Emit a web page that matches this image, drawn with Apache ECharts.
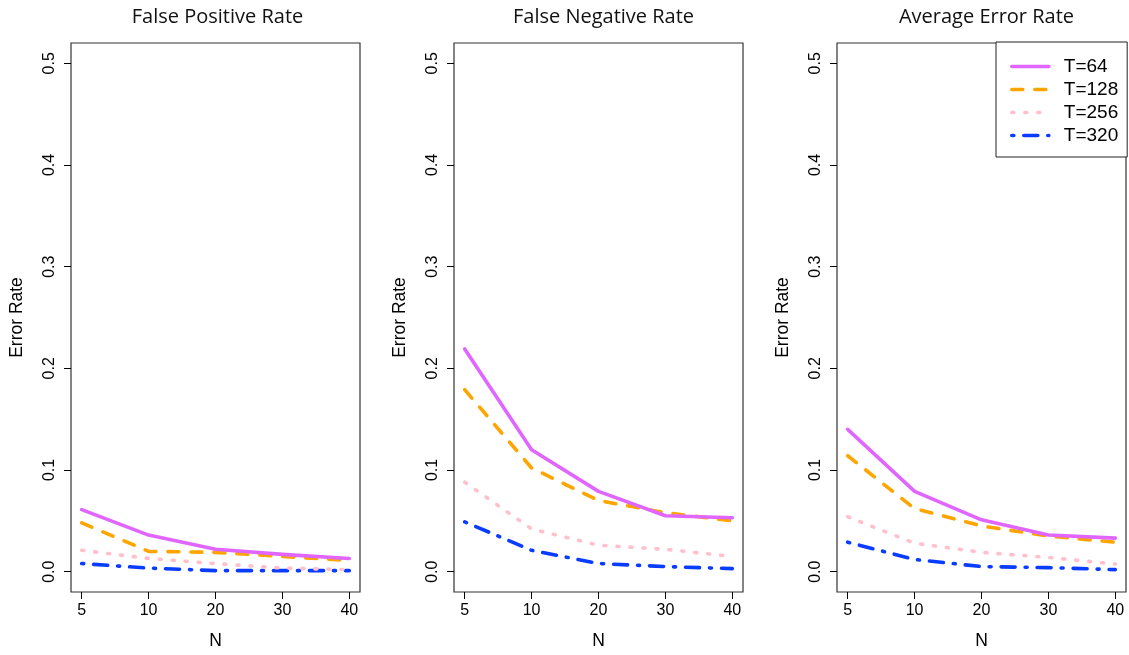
<!DOCTYPE html>
<html>
<head>
<meta charset="utf-8">
<script src="https://cdn.jsdelivr.net/npm/echarts@6/dist/echarts.min.js"></script>
<style>
html,body{margin:0;padding:0;background:#fff;}
#c{width:1129px;height:655px;}
</style>
</head>
<body>
<div id="c"></div>
<script>
// ---- data ----
const nLabels = ['5', '10', '20', '30', '40'];
const yTicks = [0, 0.1, 0.2, 0.3, 0.4, 0.5];
const panelTitles = ['False Positive Rate', 'False Negative Rate', 'Average Error Rate'];
const seriesNames = ['T=64', 'T=128', 'T=256', 'T=320'];

const fpr64  = [0.061, 0.036, 0.022, 0.017, 0.013];
const fpr128 = [0.048, 0.020, 0.019, 0.015, 0.011];
const fpr256 = [0.021, 0.013, 0.008, 0.0035, 0.002];
const fpr320 = [0.008, 0.0035, 0.001, 0.001, 0.001];

const fnr64  = [0.219, 0.120, 0.079, 0.055, 0.053];
const fnr128 = [0.179, 0.102, 0.070, 0.058, 0.050];
const fnr256 = [0.088, 0.042, 0.026, 0.022, 0.015];
const fnr320 = [0.049, 0.021, 0.008, 0.005, 0.003];

const avg64  = [0.140, 0.079, 0.051, 0.036, 0.033];
const avg128 = [0.114, 0.062, 0.045, 0.035, 0.029];
const avg256 = [0.054, 0.028, 0.019, 0.014, 0.0075];
const avg320 = [0.029, 0.012, 0.005, 0.004, 0.002];

const panels = [
  [fpr64, fpr128, fpr256, fpr320],
  [fnr64, fnr128, fnr256, fnr320],
  [avg64, avg128, avg256, avg320]
];

// ---- styles ----
const colors = ['#E066FF', '#FFA500', '#FFC0CB', '#0A3CFF'];
const dashes = ['solid', [11, 12], [2, 11], [2, 10, 14, 10]];
const lineW = 3.6;
const lblFont = 'Liberation Sans';
const gridLefts = [71, 454, 837];
const gridW = 289, gridTop = 43, gridH = 550;
const xIdx = nLabels.map((_, i) => i + 1);

const grids = [], xAxes = [], yAxes = [], series = [], titles = [];
panels.forEach((pd, p) => {
  grids.push({left: gridLefts[p], top: gridTop, width: gridW, height: gridH,
    show: true, borderColor: '#333', borderWidth: 1.2, backgroundColor: 'transparent'});
  titles.push({text: panelTitles[p], left: gridLefts[p] + gridW / 2 - (p === 0 ? 3 : 0), top: 2, textAlign: 'center',
    textStyle: {fontFamily: 'Open Sans', fontSize: 20, fontWeight: 'normal', color: '#111'}});
  xAxes.push({type: 'value', gridIndex: p, min: 0.84, max: 5.16,
    name: 'N', nameLocation: 'middle', nameGap: 40,
    nameTextStyle: {fontFamily: lblFont, fontSize: 17.5, color: '#000'},
    axisLine: {show: false, onZero: false}, splitLine: {show: false},
    axisTick: {show: true, customValues: xIdx, length: 7, lineStyle: {color: '#000', width: 1}},
    axisLabel: {customValues: xIdx, margin: 11, fontFamily: lblFont, fontSize: 16, color: '#000',
      formatter: v => nLabels[Math.round(v) - 1]}
  });
  yAxes.push({type: 'value', gridIndex: p, min: -0.02, max: 0.52,
    name: 'Error Rate', nameLocation: 'middle', nameGap: 45, nameRotate: 90,
    nameTextStyle: {fontFamily: lblFont, fontSize: 17.5, color: '#000'},
    axisLine: {show: false, onZero: false}, splitLine: {show: false},
    axisTick: {show: true, customValues: yTicks, length: 7, lineStyle: {color: '#000', width: 1}},
    axisLabel: {customValues: yTicks, rotate: 90, margin: 13, fontFamily: lblFont, fontSize: 16, color: '#000',
      formatter: v => v.toFixed(1)}
  });
  pd.forEach((vals, s) => {
    series.push({type: 'line', name: seriesNames[s], xAxisIndex: p, yAxisIndex: p,
      data: vals.map((v, i) => [xIdx[i], v]),
      symbol: 'none', silent: true, animation: false,
      lineStyle: {color: colors[s], width: lineW, type: dashes[s], cap: 'round', join: 'round'},
      itemStyle: {color: colors[s]},
      z: 10 - s
    });
  });
});

const chart = echarts.init(document.getElementById('c'), null, {renderer: 'canvas'});
chart.setOption({
  animation: false,
  backgroundColor: '#fff',
  title: titles,
  grid: grids,
  xAxis: xAxes,
  yAxis: yAxes,
  legend: {
    data: seriesNames, orient: 'vertical', left: 996, top: 42,
    backgroundColor: '#fff', borderColor: '#222', borderWidth: 1, borderRadius: 0,
    padding: [15, 9, 12, 14], itemWidth: 37, itemHeight: 14, itemGap: 4,
    selectedMode: false,
    textStyle: {fontFamily: lblFont, fontSize: 19, color: '#000', padding: [0, 0, 0, 10]},
    itemStyle: {opacity: 0},
    lineStyle: {width: 3.6}
  },
  series: series
});
</script>
</body>
</html>
